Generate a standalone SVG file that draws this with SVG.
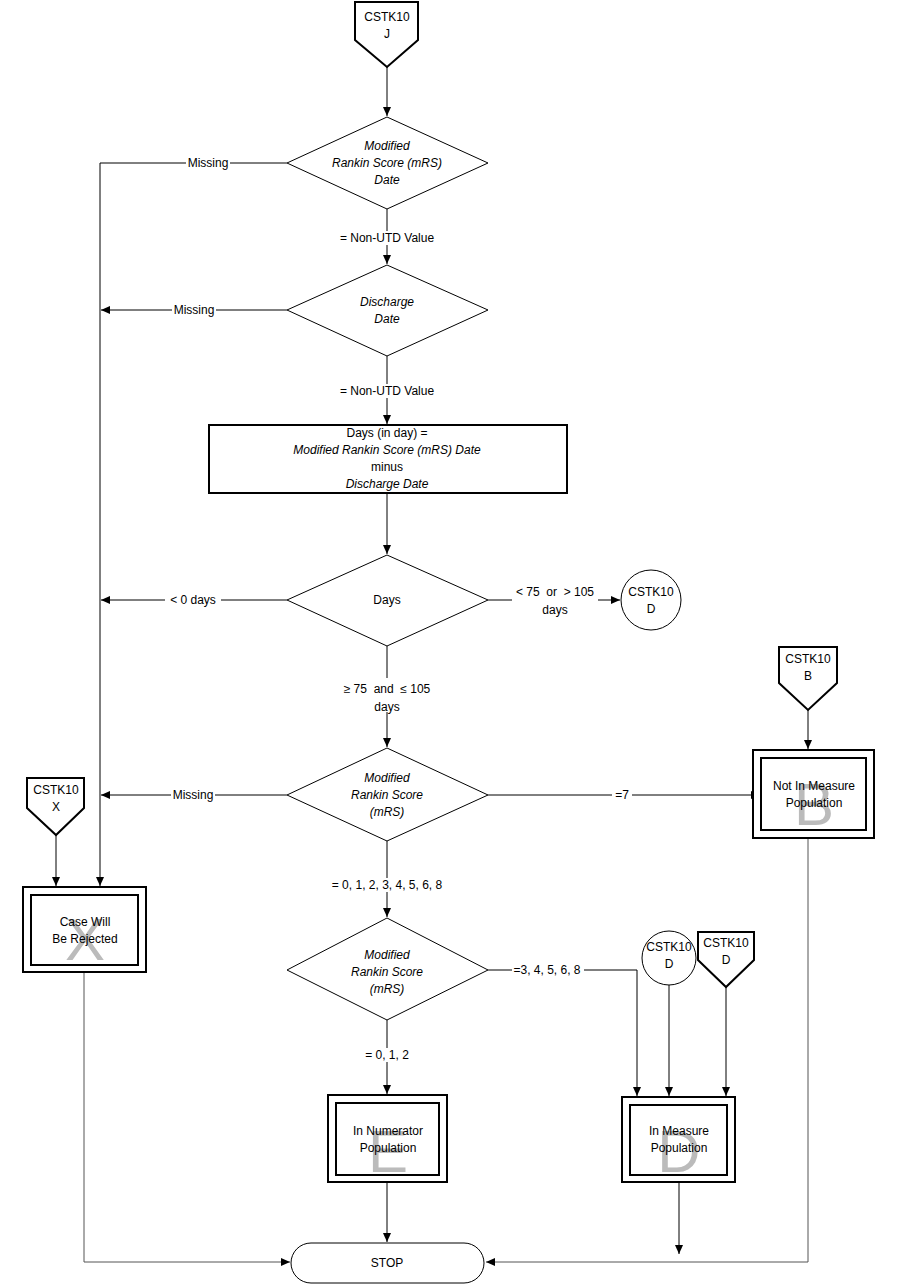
<svg xmlns="http://www.w3.org/2000/svg" width="900" height="1286" viewBox="0 0 900 1286">
<style>
text{font-family:"Liberation Sans",Arial,sans-serif;font-size:12px;text-anchor:middle;fill:#000}
.i{font-style:italic}
.s{fill:#fff;stroke:#000;stroke-width:1}
.b{fill:#fff;stroke:#000;stroke-width:2}
.c{fill:none;stroke:#000;stroke-width:1}
.g{fill:none;stroke:#555;stroke-width:1}
.big{font-size:60px;fill:#bbb}
.lb{fill:#fff}
</style>
<defs><marker id="a" markerWidth="10" markerHeight="10" refX="9" refY="5" orient="auto" markerUnits="userSpaceOnUse"><path d="M0,1 L9,5 L0,9 z" fill="#000"/></marker></defs>
<rect width="900" height="1286" fill="#fff"/>
<g id="connectors">
<path class="c" d="M387,67 V116" marker-end="url(#a)"/>
<path class="c" d="M287,163 H100 V886" marker-end="url(#a)"/>
<path class="c" d="M387,209 V264" marker-end="url(#a)"/>
<path class="c" d="M287,310 H101" marker-end="url(#a)"/>
<path class="c" d="M387,356 V424" marker-end="url(#a)"/>
<path class="c" d="M387,493 V554" marker-end="url(#a)"/>
<path class="c" d="M287,600 H101" marker-end="url(#a)"/>
<path class="c" d="M488,600 H620" marker-end="url(#a)"/>
<path class="c" d="M387,646 V747" marker-end="url(#a)"/>
<path class="c" d="M287,795 H101" marker-end="url(#a)"/>
<path class="c" d="M488,795 H760" marker-end="url(#a)"/>
<path class="c" d="M808,710 V749" marker-end="url(#a)"/>
<path class="c" d="M56,835 V886" marker-end="url(#a)"/>
<path class="c" d="M387,841 V917" marker-end="url(#a)"/>
<path class="c" d="M387,1020 V1094" marker-end="url(#a)"/>
<path class="c" d="M488,970 H637 V1096" marker-end="url(#a)"/>
<path class="c" d="M669,985 V1096" marker-end="url(#a)"/>
<path class="c" d="M726,987 V1096" marker-end="url(#a)"/>
<path class="c" d="M387,1182 V1242" marker-end="url(#a)"/>
<path class="c" d="M679,1182 V1254" marker-end="url(#a)"/>
<path class="g" d="M808,838 V1262 H486" marker-end="url(#a)"/>
<path class="g" d="M84,972 V1262 H290" marker-end="url(#a)"/>
<rect class="lb" x="186" y="156" width="44" height="14"/><text x="208" y="167">Missing</text>
<rect class="lb" x="336" y="231" width="102" height="14"/><text x="387" y="242">= Non-UTD Value</text>
<rect class="lb" x="172" y="303" width="44" height="14"/><text x="194" y="314">Missing</text>
<rect class="lb" x="336" y="384" width="102" height="14"/><text x="387" y="395">= Non-UTD Value</text>
<rect class="lb" x="165" y="593" width="56" height="14"/><text x="193" y="604">&lt; 0  days</text>
<rect class="lb" x="512" y="585" width="86" height="30"/><text x="555" y="596" xml:space="preserve">&lt; 75  or  &gt; 105</text><text x="555" y="614">days</text>
<rect class="lb" x="338" y="678" width="98" height="34"/><text x="387" y="693" xml:space="preserve">≥ 75  and  ≤ 105</text><text x="387" y="711">days</text>
<rect class="lb" x="171" y="788" width="44" height="14"/><text x="193" y="799">Missing</text>
<rect class="lb" x="612" y="788" width="20" height="14"/><text x="622" y="799">=7</text>
<rect class="lb" x="330" y="878" width="114" height="14"/><text x="387" y="889">= 0, 1, 2, 3, 4, 5, 6, 8</text>
<rect class="lb" x="512" y="963" width="72" height="14"/><text x="547" y="974">=3, 4, 5, 6, 8</text>
<rect class="lb" x="360" y="1048" width="54" height="14"/><text x="387" y="1059">= 0, 1, 2</text>
</g>
<g id="offJ"><path class="b" d="M355,2 H418 V40 L387,67 L355,40 Z"/><text x="387" y="21">CSTK10</text><text x="387" y="38">J</text></g>
<g id="d1"><path class="s" d="M387,117 L488,163 L387,209 L287,163 Z"/><text class="i" x="387" y="150">Modified</text><text class="i" x="387" y="167">Rankin Score (mRS)</text><text class="i" x="387" y="184">Date</text></g>
<g id="d2"><path class="s" d="M387,265 L488,310 L387,356 L287,310 Z"/><text class="i" x="387" y="306">Discharge</text><text class="i" x="387" y="323">Date</text></g>
<g id="calc"><rect class="b" x="209" y="425" width="358" height="68"/><text x="387" y="437">Days (in day) =</text><text class="i" x="387" y="454">Modified Rankin Score (mRS) Date</text><text x="387" y="471">minus</text><text class="i" x="387" y="488">Discharge Date</text></g>
<g id="d3"><path class="s" d="M387,555 L488,600 L387,646 L287,600 Z"/><text x="387" y="604">Days</text></g>
<g id="circD1"><circle class="s" cx="651" cy="600" r="30"/><text x="651" y="596">CSTK10</text><text x="651" y="613">D</text></g>
<g id="d4"><path class="s" d="M387,748 L488,795 L387,841 L287,795 Z"/><text class="i" x="387" y="782">Modified</text><text class="i" x="387" y="799">Rankin Score</text><text class="i" x="387" y="816">(mRS)</text></g>
<g id="offB"><path class="b" d="M779,647 H837 V683 L808,710 L779,683 Z"/><text x="808" y="663">CSTK10</text><text x="808" y="680">B</text></g>
<g id="notInMeasure"><rect class="b" x="753" y="750" width="121" height="88"/><rect class="b" x="761" y="758" width="105" height="72" stroke-width="3"/><text class="big" x="814" y="825">B</text><text x="814" y="790">Not In Measure</text><text x="814" y="807">Population</text></g>
<g id="offX"><path class="b" d="M27,778 H84 V808 L56,835 L27,808 Z"/><text x="56" y="794">CSTK10</text><text x="56" y="811">X</text></g>
<g id="rejected"><rect class="b" x="23" y="887" width="123" height="85"/><rect class="b" x="31" y="895" width="107" height="70" stroke-width="3"/><text class="big" x="85" y="960">X</text><text x="85" y="926">Case Will</text><text x="85" y="943">Be Rejected</text></g>
<g id="d5"><path class="s" d="M387,918 L488,970 L387,1020 L287,970 Z"/><text class="i" x="387" y="959">Modified</text><text class="i" x="387" y="976">Rankin Score</text><text class="i" x="387" y="993">(mRS)</text></g>
<g id="circD2"><circle class="s" cx="669" cy="958" r="27"/><text x="669" y="951">CSTK10</text><text x="669" y="968">D</text></g>
<g id="offD"><path class="b" d="M698,932 H754 V960 L726,987 L698,960 Z"/><text x="726" y="947">CSTK10</text><text x="726" y="964">D</text></g>
<g id="numerator"><rect class="b" x="328" y="1095" width="119" height="87"/><rect class="b" x="336" y="1103" width="103" height="72" stroke-width="3"/><text class="big" x="388" y="1172">E</text><text x="388" y="1135">In Numerator</text><text x="388" y="1152">Population</text></g>
<g id="inMeasure"><rect class="b" x="622" y="1097" width="113" height="85"/><rect class="b" x="630" y="1105" width="97" height="70" stroke-width="3"/><text class="big" x="679" y="1172">D</text><text x="679" y="1135">In Measure</text><text x="679" y="1152">Population</text></g>
<g id="stop"><rect class="s" x="291" y="1243" width="193" height="40" rx="20"/><text x="387" y="1267">STOP</text></g>
</svg>
